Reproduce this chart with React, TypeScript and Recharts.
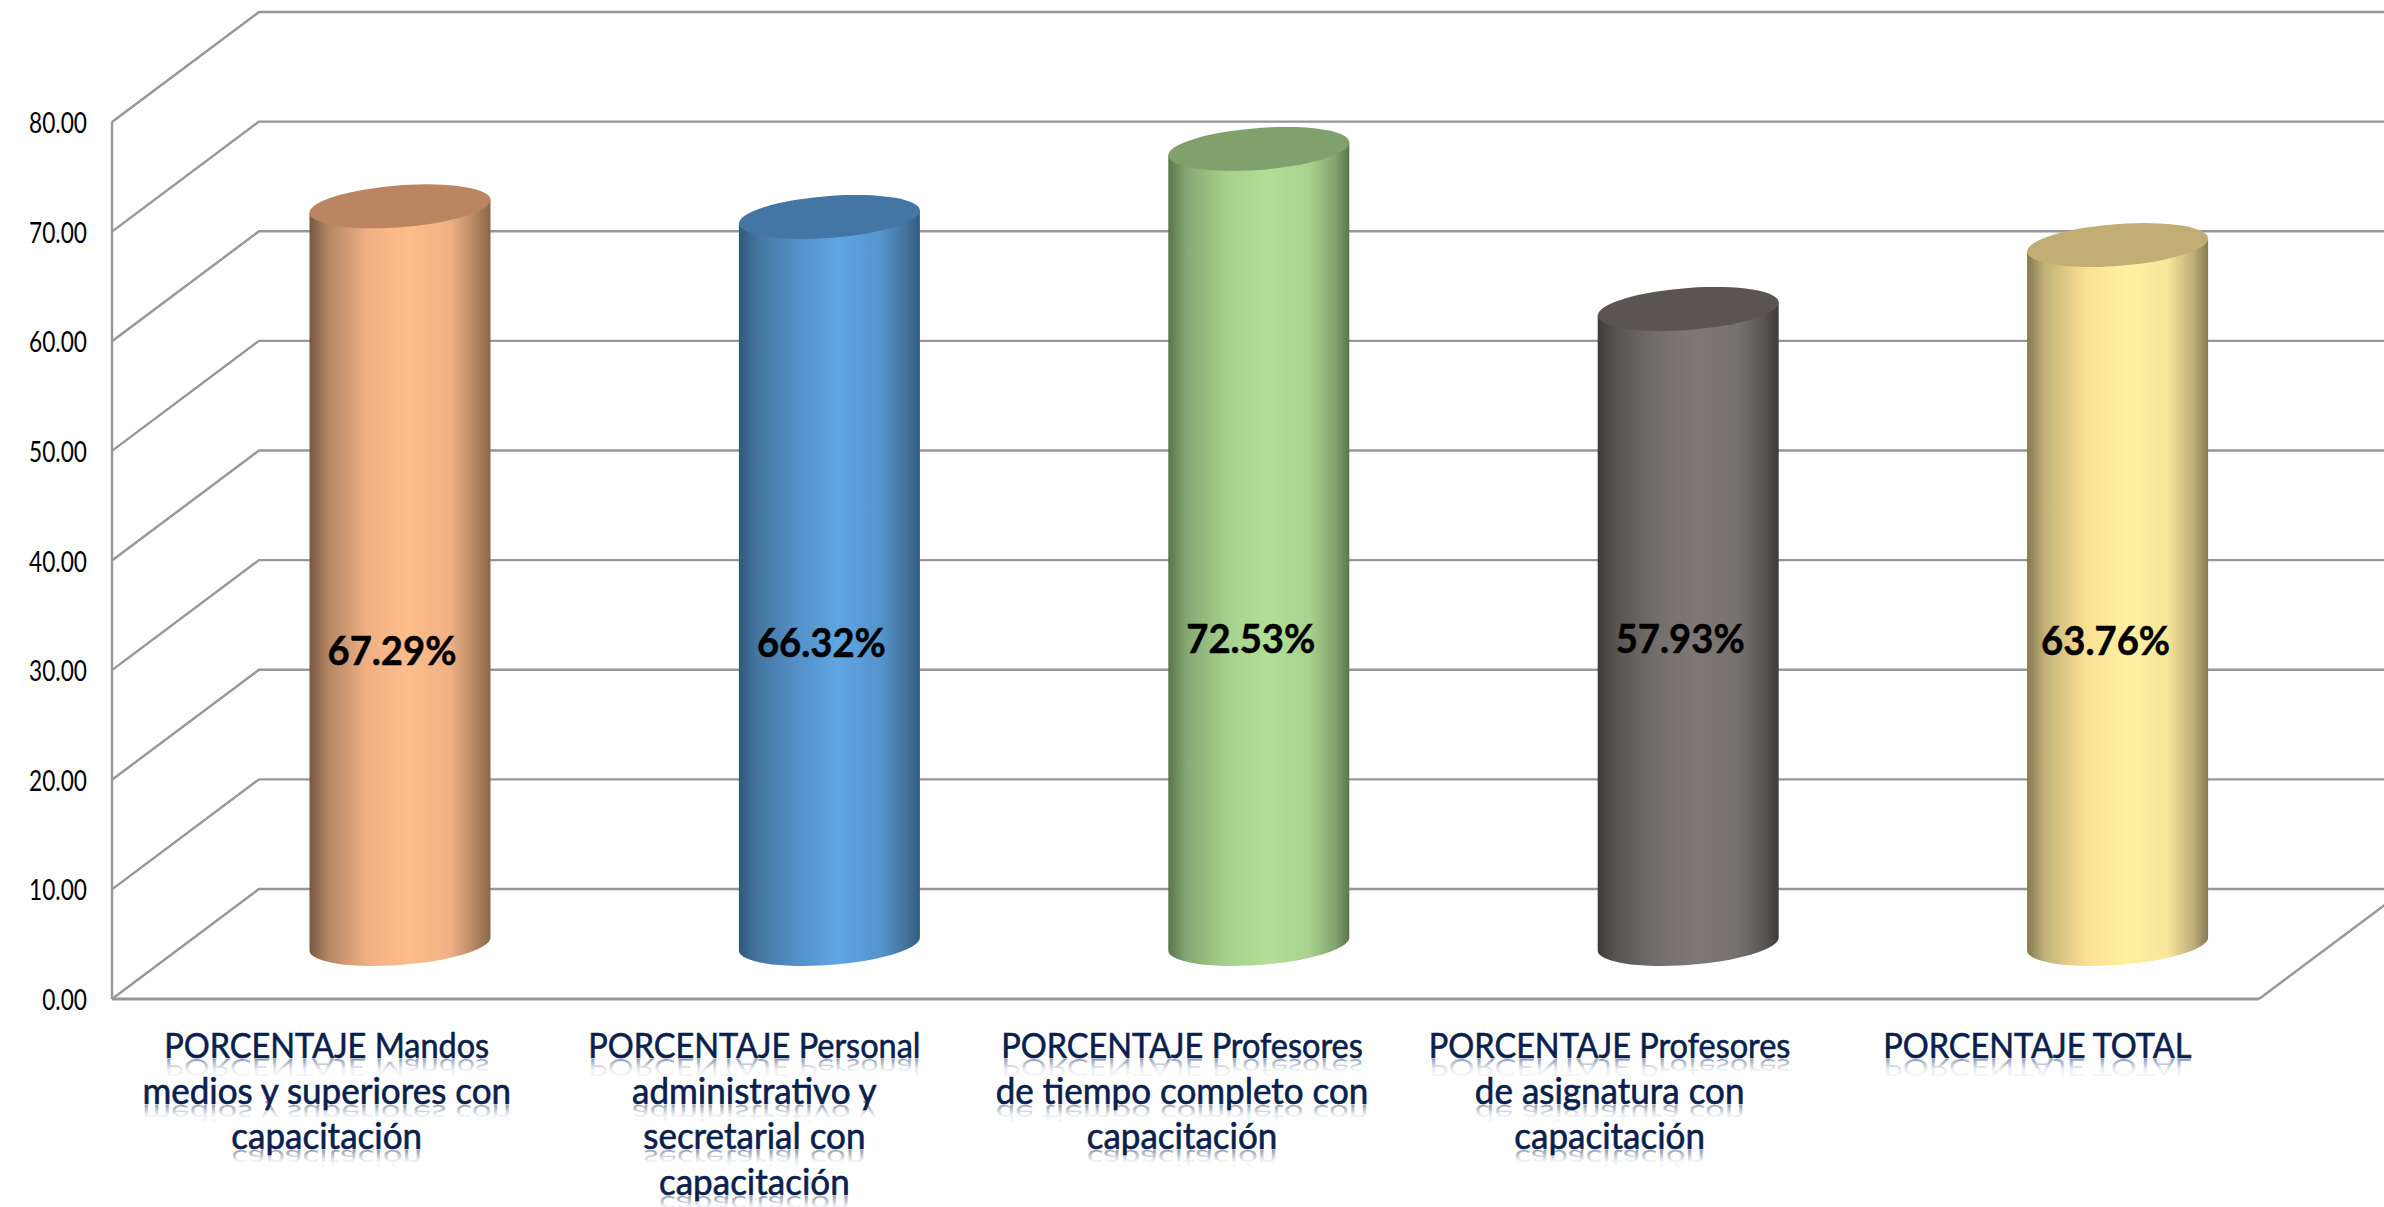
import React from "react";
import { BarChart, Bar, XAxis, YAxis, CartesianGrid, LabelList } from "recharts";

const categories = [
  "PORCENTAJE Mandos medios y superiores con capacitación",
  "PORCENTAJE Personal administrativo y secretarial con capacitación",
  "PORCENTAJE Profesores de tiempo completo con capacitación",
  "PORCENTAJE Profesores de asignatura con capacitación",
  "PORCENTAJE TOTAL",
];
const categoryLines = [
  ["PORCENTAJE Mandos", "medios y superiores con", "capacitación"],
  ["PORCENTAJE Personal", "administrativo y", "secretarial con", "capacitación"],
  ["PORCENTAJE Profesores", "de tiempo completo con", "capacitación"],
  ["PORCENTAJE Profesores", "de asignatura con", "capacitación"],
  ["PORCENTAJE TOTAL"],
];
const values = [67.29, 66.32, 72.53, 57.93, 63.76];
const yTicks = [0, 10, 20, 30, 40, 50, 60, 70, 80];

// [edge, shade, mid, light, midRight, shadeRight, edgeRight, top]
const palettes = [
  ["#775840", "#b38662", "#f0b084", "#febd8a", "#eeb084", "#b08460", "#8a684c", "#ba8560"],
  ["#2e5880", "#44769f", "#5490c8", "#5fa6e3", "#5594cd", "#44749f", "#315c82", "#4376a5"],
  ["#59764a", "#85a872", "#a6d08c", "#b2de96", "#a8d28e", "#83a570", "#5a774c", "#80a06c"],
  ["#3e3b3a", "#585452", "#726e6c", "#7e7977", "#75716f", "#585452", "#3e3b3a", "#5a5553"],
  ["#85784c", "#c2b27a", "#fbdf92", "#fff1a2", "#f7e59a", "#bdae78", "#877a50", "#c2ae74"],
];
const stopOffsets = [0, 0.1, 0.32, 0.55, 0.78, 0.92, 1];

// Manually placed labels in the original: vertical centre and horizontal nudge.
const labelCentreY = [651, 643, 639, 639, 641];
const labelNudgeX = [-8, -8, -8, -8, -12];

const PLOT_BOTTOM = 999;
const DEPTH_X = 147;
const DEPTH_Y = 110;
const GRID = "#979797";
const NAVY = "#0a1f4e";
const FONT = "Lato, 'Noto Sans', sans-serif";

const data = categories.map((name, i) => ({ name, value: values[i] }));

const Cylinder = (props: any) => {
  const { x, y, width, height, index } = props;
  const r = width / 2;
  const cx = x + r + DEPTH_X / 2;
  const top = y - DEPTH_Y / 2;
  const bottom = y + height - DEPTH_Y / 2;
  const ry = 21;
  const shear = -6.5 / r;
  return (
    <g transform={`matrix(1 ${shear} 0 1 ${cx} 0)`}>
      <path
        d={`M${-r} ${top} L${-r} ${bottom} A${r} ${ry} 0 0 0 ${r} ${bottom} L${r} ${top} Z`}
        fill={`url(#cyl${index})`}
      />
      <ellipse cx={0} cy={top} rx={r} ry={ry} fill={palettes[index][7]} />
    </g>
  );
};

const GridLine = (props: any) => {
  const { x1, x2, y1, index } = props;
  return (
    <g key={index}>
      <polyline
        points={`${x1},${y1} ${x1 + DEPTH_X},${y1 - DEPTH_Y} ${x2 + DEPTH_X},${y1 - DEPTH_Y}`}
        fill="none"
        stroke={GRID}
        strokeWidth={2.4}
      />
      {y1 >= PLOT_BOTTOM - 1 && (
        <line x1={x2} y1={y1} x2={x2 + DEPTH_X} y2={y1 - DEPTH_Y} stroke={GRID} strokeWidth={2.4} />
      )}
    </g>
  );
};

const YTick = (props: any) => {
  const { x, y, payload } = props;
  return (
    <text
      transform={`translate(${x - 17} ${y + 11}) scale(0.84 1.06)`}
      textAnchor="end"
      fontFamily={FONT}
      fontSize={27}
      fill="#000"
    >
      {payload.value.toFixed(2)}
    </text>
  );
};

const XTick = (props: any) => {
  const { x, index } = props;
  const cx = x - index * 1.75;
  return (
    <g>
      {categoryLines[index].map((line, i) => {
        const base = 1058 + i * 45.6;
        const id = `xline-${index}-${i}`;
        const isCaps = line.startsWith("PORCENTAJE");
        const sx = isCaps ? 0.955 : 1.03;
        const sy = isCaps ? 1.02 : 1.07;
        return (
          <g key={i}>
            <g transform={`translate(${cx} ${base}) scale(${sx} ${sy})`} fill={NAVY} stroke={NAVY} strokeWidth={0.6}>
              <text id={id} textAnchor="middle" fontFamily={FONT} fontSize={34}>
                {line}
              </text>
            </g>
            <use
              href={`#${id}`}
              transform={`translate(${cx} ${base + 1}) scale(${sx} -0.66)`}
              fill="url(#reflect)"
            />
          </g>
        );
      })}
    </g>
  );
};

const ValueLabel = (props: any) => {
  const { x, width, value, index } = props;
  return (
    <text
      transform={`translate(${x + width / 2 + DEPTH_X / 2 + labelNudgeX[index]} ${labelCentreY[index] + 14}) scale(0.955 1)`}
      textAnchor="middle"
      fontFamily={FONT}
      fontWeight={700}
      fontSize={40}
      fill="#000"
      stroke="#000"
      strokeWidth={0.5}
    >
      {value.toFixed(2)}%
    </text>
  );
};

export default function App() {
  return (
    <div style={{ position: "absolute", left: 0, top: 0, width: 2384, height: 1207, background: "#fff", overflow: "hidden" }}>
      <BarChart
        width={2384}
        height={1207}
        data={data}
        margin={{ top: 122, right: 125, bottom: 0, left: 0 }}
        barSize={181}
      >
        <defs>
          {palettes.map((p, i) => (
            <linearGradient key={i} id={`cyl${i}`} x1="0" y1="0" x2="1" y2="0">
              {stopOffsets.map((o, j) => (
                <stop key={j} offset={o} stopColor={p[j]} />
              ))}
            </linearGradient>
          ))}
          <linearGradient id="reflect" x1="0" y1="0" x2="0" y2="1">
            <stop offset="0" stopColor={NAVY} stopOpacity={0} />
            <stop offset="0.45" stopColor={NAVY} stopOpacity={0.08} />
            <stop offset="1" stopColor={NAVY} stopOpacity={0.6} />
          </linearGradient>
        </defs>
        <CartesianGrid horizontal={GridLine as any} vertical={false} syncWithTicks />
        <XAxis
          dataKey="name"
          height={208}
          interval={0}
          axisLine={{ stroke: GRID, strokeWidth: 3 }}
          tickLine={false}
          tick={XTick as any}
        />
        <YAxis
          width={112}
          domain={[0, 80]}
          ticks={yTicks}
          interval={0}
          axisLine={{ stroke: GRID, strokeWidth: 2.4 }}
          tickLine={false}
          tick={YTick as any}
        />
        <Bar dataKey="value" shape={Cylinder as any} isAnimationActive={false}>
          <LabelList dataKey="value" content={ValueLabel as any} />
        </Bar>
      </BarChart>
    </div>
  );
}
